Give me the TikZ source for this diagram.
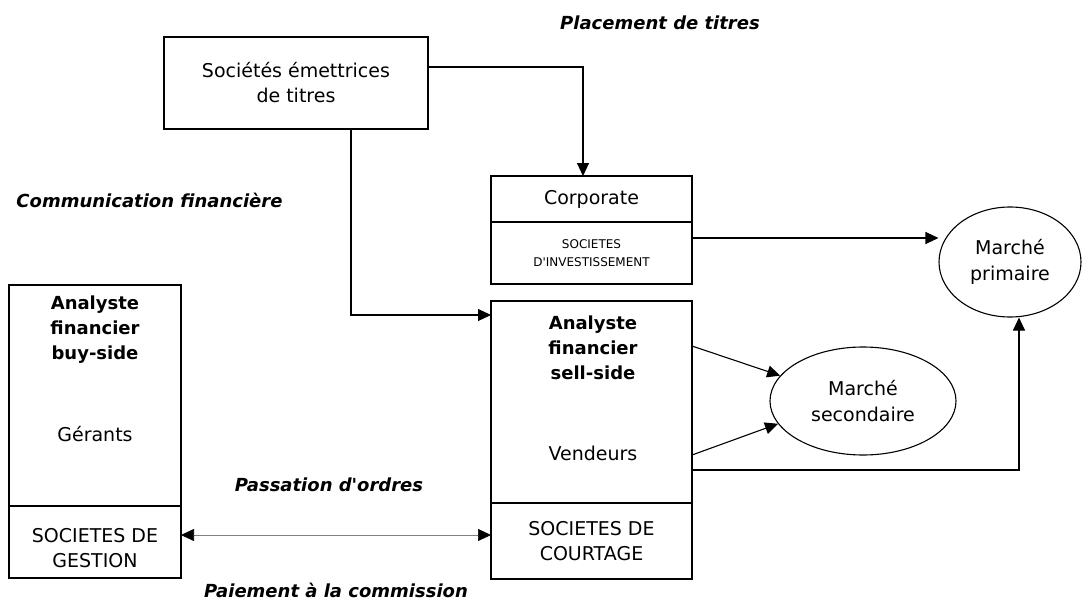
\documentclass[tikz,border=0pt]{standalone}
\usepackage{fontspec}
\setmainfont{DejaVu Sans}
\usetikzlibrary{calc}
\usetikzlibrary{positioning}
\usetikzlibrary{shapes.geometric}
\usetikzlibrary{arrows.meta}

\begin{document}
\begin{tikzpicture}[
    x=1pt, y=-1pt,
    box/.style={draw, line width=1.1pt, rectangle, inner sep=0pt, outer sep=0pt},
    mkt/.style={draw, line width=1.1pt, ellipse, inner sep=0pt, align=center, font=\fontsize{19}{26}\selectfont},
    txt/.style={align=center, font=\fontsize{19}{25}\selectfont},
    bld/.style={align=center, font=\fontsize{18}{25}\selectfont\bfseries},
    sml/.style={align=center, font=\fontsize{12}{18}\selectfont},
    lab/.style={font=\fontsize{18}{25}\selectfont\bfseries\itshape},
    arr/.style={line width=1.1pt, -{Triangle[length=13pt,width=12pt]}}
]
\useasboundingbox (0,0) rectangle (1088,602);

% Issuers
\node[box, txt, minimum width=264pt, minimum height=92pt] (emet) at (296,83) {Sociétés émettrices\\de titres};

% Corporate / investment companies
\node[box, txt, minimum width=201pt, minimum height=46pt] (corp) at (591.5,199) {Corporate};
\node[box, sml, minimum width=201pt, minimum height=62pt, below=0pt of corp] (invest) {SOCIETES\\D\textquotesingle INVESTISSEMENT};

% Sell side
\node[box, minimum width=201pt, minimum height=202pt] (sell) at (591.5,402) {};
\node[box, txt, minimum width=201pt, minimum height=76pt, below=0pt of sell] (court) {SOCIETES DE\\COURTAGE};
\node[bld] (sellan) at ($(sell.north)+(1.5,47)$) {Analyste\\financier\\sell-side};
\node[txt] (vend) at ($(sell.south)+(1.5,-50)$) {Vendeurs};

% Buy side
\node[box, minimum width=172pt, minimum height=221pt] (buy) at (95,395.5) {};
\node[box, minimum width=172pt, minimum height=72pt, below=0pt of buy] (gest) {};
\node[txt] (gesttxt) at ($(gest.center)+(0,6)$) {SOCIETES DE\\GESTION};
\node[bld] (buyan) at ($(buy.north)+(0,45)$) {Analyste\\financier\\buy-side};
\node[txt] (ger) at ($(buy.south)+(0,-72)$) {Gérants};

% Markets
\node[mkt, minimum width=142pt, minimum height=110pt] (prim) at (1010,262) {Marché\\primaire};
\node[mkt, minimum width=186pt, minimum height=108pt] (sec) at (863,401) {Marché\\secondaire};

% Flow labels
\node[lab] (plac) at (660,23) {Placement de titres};
\node[lab] (comm) at (149.5,200) {Communication financière};
\node[lab] (pass) at (329,485) {Passation d\textquotesingle ordres};
\node[lab] (paie) at (336,590) {Paiement à la commission};

% Connectors
\draw[arr] ([yshift=16pt]emet.east) -| ([xshift=-8.5pt]corp.north);
\draw[arr] ([xshift=55pt]emet.south) |- ([yshift=-14pt]sell.north west);

\coordinate (inv) at ([yshift=15pt]invest.east);
\draw[arr] (inv) -- (inv -| prim.west);

\draw[arr] ([yshift=56pt]sell.east) -- (sec.163);
\draw[arr] ([yshift=-53pt]sell.east) -- (sec.195);
\draw[arr] ([yshift=-68pt]sell.east) -| ([xshift=9pt]prim.south);

\coordinate (g) at ([yshift=7pt]gest.east);
\draw[gray, line width=0.6pt, {Triangle[length=13pt,width=12pt,black]}-{Triangle[length=13pt,width=12pt,black]}] (g) -- (g -| court.west);

\end{tikzpicture}
\end{document}
